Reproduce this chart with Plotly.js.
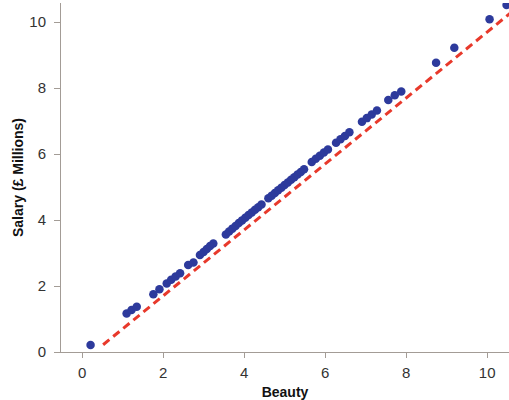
<!DOCTYPE html>
<html>
<head>
<meta charset="utf-8">
<script src="https://cdn.plot.ly/plotly-3.0.1.min.js"></script>
<style>html,body{margin:0;padding:0;background:#fff;}#chart{width:509px;height:400px;}</style>
</head>
<body>
<div id="chart"></div>
<script>
const beauty = [0.21, 1.10, 1.22, 1.35, 1.76, 1.91, 2.09, 2.20, 2.31, 2.42, 2.62, 2.75, 2.91, 3.00, 3.08, 3.16, 3.24,
  3.55, 3.63, 3.71, 3.79, 3.87, 3.95, 4.03, 4.11, 4.19, 4.27, 4.35, 4.43,
  4.60, 4.68, 4.76, 4.84, 4.92, 5.00, 5.08, 5.16, 5.24, 5.32, 5.40, 5.48,
  5.67, 5.77, 5.87, 5.97, 6.07,
  6.27, 6.38, 6.49, 6.60,
  6.91, 7.03, 7.15, 7.28,
  7.56, 7.72, 7.88,
  8.74, 9.19, 10.06, 10.48];
const salary = [0.21, 1.17, 1.27, 1.37, 1.75, 1.90, 2.08, 2.19, 2.29, 2.39, 2.64, 2.71, 2.94, 3.03, 3.12, 3.21, 3.29,
  3.56, 3.65, 3.74, 3.82, 3.91, 3.99, 4.07, 4.15, 4.23, 4.31, 4.39, 4.47,
  4.66, 4.74, 4.82, 4.90, 4.98, 5.06, 5.14, 5.22, 5.30, 5.38, 5.46, 5.54,
  5.76, 5.86, 5.95, 6.05, 6.14,
  6.34, 6.45, 6.55, 6.66,
  6.98, 7.09, 7.20, 7.32,
  7.64, 7.78, 7.90,
  8.77, 9.22, 10.09, 10.52];
const fitX = [0.52, 10.95];
const fitY = [0.22, 10.65];
const xTicks = [0, 2, 4, 6, 8, 10];
const yTicks = [0, 2, 4, 6, 8, 10];

const axisColor = '#a39c96';
const font = 'Liberation Sans, Arial, sans-serif';

const traces = [
  {x: fitX, y: fitY, mode: 'lines', type: 'scatter',
   line: {color: '#e8392b', width: 3, dash: '8px,5px'}, hoverinfo: 'skip'},
  {x: beauty, y: salary, mode: 'markers', type: 'scatter',
   marker: {color: '#2d3a9c', size: 8.5}}
];

const layout = {
  width: 509, height: 400,
  margin: {l: 61, r: 0, t: 3, b: 48},
  paper_bgcolor: '#fff', plot_bgcolor: '#fff',
  showlegend: false,
  xaxis: {
    range: [-0.52, 10.54], tickvals: xTicks, ticktext: xTicks.map(String),
    showgrid: false, zeroline: false, showline: true, linecolor: axisColor, linewidth: 1,
    ticks: 'outside', ticklen: 5, tickcolor: axisColor, tickwidth: 1,
    tickfont: {family: font, size: 15, color: '#333'}, ticklabelstandoff: 2,
    title: {text: 'Beauty', font: {family: font, size: 14, color: '#111', weight: 'bold'}, standoff: 8}
  },
  yaxis: {
    range: [0, 10.58], tickvals: yTicks, ticktext: yTicks.map(String),
    showgrid: false, zeroline: false, showline: true, linecolor: axisColor, linewidth: 1,
    ticks: 'outside', ticklen: 6, tickcolor: axisColor, tickwidth: 1,
    tickfont: {family: font, size: 15, color: '#333'}, ticklabelstandoff: 5,
    title: {text: 'Salary (£ Millions)', font: {family: font, size: 14, color: '#111', weight: 'bold'}, standoff: 2}
  }
};

Plotly.newPlot('chart', traces, layout, {displayModeBar: false, staticPlot: true});
</script>
</body>
</html>
